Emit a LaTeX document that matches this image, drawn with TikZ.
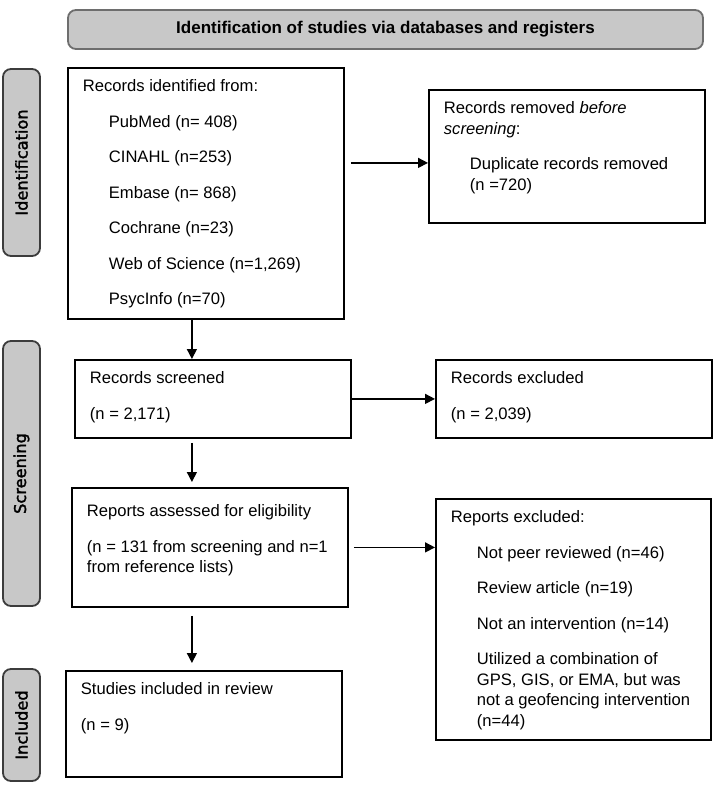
\documentclass[tikz,border=0pt]{standalone}
\usepackage{fontspec}
\usepackage{xcolor}
\setmainfont{Liberation Sans}
\newfontfamily\sidefont[FakeBold=2]{DejaVu Sans}
\usetikzlibrary{arrows.meta}

\definecolor{phasegray}{RGB}{200,200,200}
\definecolor{phaseline}{RGB}{110,110,110}
\definecolor{sideline}{RGB}{60,60,60}

% box contents: width, height, text
\newcommand{\boxtext}[3]{\parbox[c][#2][t]{#1}{\setlength{\parskip}{15pt}#3}}
\newcommand{\initem}[1]{\par{\leftskip=26pt #1\par}}

\begin{document}
\begin{tikzpicture}[x=1pt, y=-1pt,
    box/.style={draw, line width=1.8pt, anchor=north west, inner xsep=15pt, inner ysep=12pt,
                font=\fontsize{16.6}{20.5}\selectfont},
    header/.style={draw=phaseline, fill=phasegray, line width=1.8pt, rounded corners=8pt,
                   minimum width=635pt, minimum height=39pt, font=\fontsize{17}{20}\selectfont\bfseries},
    phase/.style={draw=sideline, fill=phasegray, line width=1.8pt, rounded corners=8pt, rotate=90,
                  minimum height=37pt, font=\fontsize{16.2}{18}\sidefont},
    arr/.style={line width=1.5pt, -{Triangle[length=10pt, width=10pt]}}]
    \useasboundingbox (0,0) rectangle (714,787);

    \node[header] (title) at (385.5,29.5) {Identification of studies via databases and registers};

    \node[phase, minimum width=187pt] (idphase)  at (21.5,162.5) {Identification};
    \node[phase, minimum width=265pt] (scrphase) at (21.5,473.5) {Screening};
    \node[phase, minimum width=112pt] (incphase) at (21.5,725)   {Included};

    \node[box] (ident) at (67,67) {\boxtext{246pt}{227pt}{Records identified from:
        \initem{PubMed (n= 408)}
        \initem{CINAHL (n=253)}
        \initem{Embase (n= 868)}
        \initem{Cochrane (n=23)}
        \initem{Web of Science (n=1,269)}
        \initem{PsycInfo (n=70)}}};
    \node[box] (removed) at (428,89) {\boxtext{246pt}{109pt}{Records removed \emph{before}\newline
        \emph{screening}:
        \initem{Duplicate records removed\newline (n =720)}}};

    \node[box] (screened) at (74,359) {\boxtext{246pt}{54pt}{Records screened\par (n = 2,171)}};
    \node[box] (excl1) at (435,359) {\boxtext{246pt}{54pt}{Records excluded\par (n = 2,039)}};

    \node[box] (assessed) at (71,487) {\boxtext{246pt}{95pt}{\vspace*{-10pt}Reports assessed for eligibility\par
        (n = 131 from screening and n=1\newline from reference lists)}};
    \node[box] (excl2) at (435,498) {\boxtext{245pt}{217pt}{Reports excluded:
        \initem{Not peer reviewed (n=46)}
        \initem{Review article (n=19)}
        \initem{Not an intervention (n=14)}
        \initem{Utilized a combination of\newline GPS, GIS, or EMA, but was\newline
                not a geofencing intervention\newline (n=44)}}};

    \node[box] (included) at (65,670) {\boxtext{246pt}{82pt}{Studies included in review\par (n = 9)}};

    \draw[arr] ([xshift=6pt,yshift=-6.5pt]removed.west -| ident.east) -- ([yshift=-6.5pt]removed.west);
    \draw[arr] ([xshift=-14pt]ident.south) -- ([xshift=-14pt]ident.south |- screened.north);
    \draw[arr] (screened.east) -- (excl1.west);
    \draw[arr] ([xshift=-21pt,yshift=-4pt]screened.south) -- ([xshift=-21pt,yshift=5pt]screened.south |- assessed.north);
    \draw[arr] ([xshift=5pt]assessed.east) -- (assessed.east -| excl2.west);
    \draw[arr] ([xshift=-18pt,yshift=-8pt]assessed.south) -- ([xshift=-18pt,yshift=7pt]assessed.south |- included.north);
\end{tikzpicture}
\end{document}
